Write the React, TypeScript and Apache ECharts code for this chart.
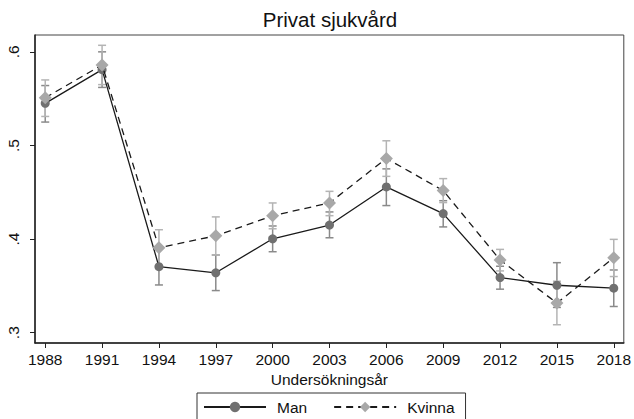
import React, { useEffect, useRef } from "react";
import * as echarts from "echarts";

const years = [1988, 1991, 1994, 1997, 2000, 2003, 2006, 2009, 2012, 2015, 2018];
const manMean = [0.545, 0.581, 0.3705, 0.364, 0.4003, 0.415, 0.4557, 0.4272, 0.3589, 0.3507, 0.3476];
const manLow = [0.525, 0.562, 0.351, 0.345, 0.3865, 0.4014, 0.4358, 0.413, 0.3465, 0.327, 0.328];
const manHigh = [0.564, 0.6, 0.39, 0.383, 0.414, 0.429, 0.475, 0.441, 0.371, 0.3748, 0.367];
const kvMean = [0.551, 0.586, 0.3907, 0.4035, 0.425, 0.4386, 0.4862, 0.4518, 0.3777, 0.3316, 0.3801];
const kvLow = [0.531, 0.565, 0.371, 0.383, 0.411, 0.425, 0.467, 0.439, 0.366, 0.3085, 0.36];
const kvHigh = [0.57, 0.607, 0.41, 0.4237, 0.4386, 0.451, 0.505, 0.4646, 0.389, 0.355, 0.3997];
const yTicks = [0.3, 0.4, 0.5, 0.6];

const errorBar = (color: string) => (params: any, api: any) => {
  const x = api.value(0);
  const lo = api.coord([x, api.value(1)]);
  const hi = api.coord([x, api.value(2)]);
  const w = 4;
  const style = { stroke: color, lineWidth: 1.5 };
  return {
    type: "group",
    children: [
      { type: "line", shape: { x1: lo[0], y1: lo[1], x2: hi[0], y2: hi[1] }, style },
      { type: "line", shape: { x1: lo[0] - w, y1: lo[1], x2: lo[0] + w, y2: lo[1] }, style },
      { type: "line", shape: { x1: hi[0] - w, y1: hi[1], x2: hi[0] + w, y2: hi[1] }, style },
    ],
  };
};

export default function App() {
  const ref = useRef<HTMLDivElement>(null);
  useEffect(() => {
    const chart = echarts.init(ref.current!, null, { renderer: "svg" });
    const font = "'Liberation Sans', Arial, Helvetica, sans-serif";
    chart.setOption({
      animation: false,
      backgroundColor: "#ffffff",
      textStyle: { fontFamily: font },
      title: {
        text: "Privat sjukvård",
        left: 330,
        textAlign: "center",
        top: 9,
        padding: 0,
        textStyle: { fontFamily: font, fontSize: 20.5, fontWeight: "normal", color: "#111" },
      },
      legend: {
        left: 197,
        top: 393,
        padding: [6, 11, 6, 6],
        borderColor: "#333",
        borderWidth: 1,
        itemWidth: 62,
        itemHeight: 13,
        itemGap: 26,
        textStyle: { fontFamily: font, fontSize: 15.5, color: "#111", padding: [0, 0, 0, 6] },
        data: ["Man", "Kvinna"],
      },
      grid: {
        left: 35,
        right: 8,
        top: 35,
        bottom: 76,
        show: true,
        borderColor: "#444",
        borderWidth: 1,
      },
      xAxis: {
        type: "value",
        min: 1987.46,
        max: 2018.53,
        name: "Undersökningsår",
        nameLocation: "middle",
        nameGap: 24,
        nameTextStyle: { fontFamily: font, fontSize: 15.5, color: "#111" },
        axisLine: { show: true, onZero: false, lineStyle: { color: "#222", width: 1.5 } },
        axisTick: { show: true, customValues: years, length: 5, lineStyle: { color: "#222" } },
        axisLabel: {
          customValues: years,
          margin: 8,
          fontFamily: font,
          fontSize: 15.5,
          color: "#111",
          formatter: (v: number) => String(Math.round(v)),
        },
        splitLine: { show: false },
      },
      yAxis: {
        type: "value",
        min: 0.289,
        max: 0.618,
        axisLine: { show: true, onZero: false, lineStyle: { color: "#222", width: 1.5 } },
        axisTick: { show: true, customValues: yTicks, length: 5, lineStyle: { color: "#222" } },
        axisLabel: {
          customValues: yTicks,
          rotate: 90,
          margin: 14,
          fontFamily: font,
          fontSize: 15.5,
          color: "#111",
          formatter: (v: number) => "." + Math.round(v * 10),
        },
        splitLine: { show: false },
      },
      series: [
        {
          type: "custom",
          name: "manErr",
          renderItem: errorBar("#8a8a8a"),
          encode: { x: 0, y: [1, 2] },
          data: years.map((y, i) => [y, manLow[i], manHigh[i]]),
          z: 1,
        },
        {
          type: "custom",
          name: "kvErr",
          renderItem: errorBar("#b4b4b4"),
          encode: { x: 0, y: [1, 2] },
          data: years.map((y, i) => [y, kvLow[i], kvHigh[i]]),
          z: 1,
        },
        {
          type: "line",
          name: "Man",
          data: years.map((y, i) => [y, manMean[i]]),
          symbol: "circle",
          symbolSize: 9,
          lineStyle: { color: "#1a1a1a", width: 1.3, type: "solid" },
          itemStyle: { color: "#707070", borderWidth: 0 },
          z: 3,
        },
        {
          type: "line",
          name: "Kvinna",
          data: years.map((y, i) => [y, kvMean[i]]),
          symbol: "diamond",
          symbolSize: 13,
          lineStyle: { color: "#1a1a1a", width: 1.3, type: [7, 5] },
          itemStyle: { color: "#a8a8a8", borderWidth: 0 },
          z: 4,
        },
      ],
    });
    return () => chart.dispose();
  }, []);
  return (
    <div
      ref={ref}
      style={{ position: "fixed", left: 0, top: 0, width: 634, height: 419 }}
    />
  );
}
